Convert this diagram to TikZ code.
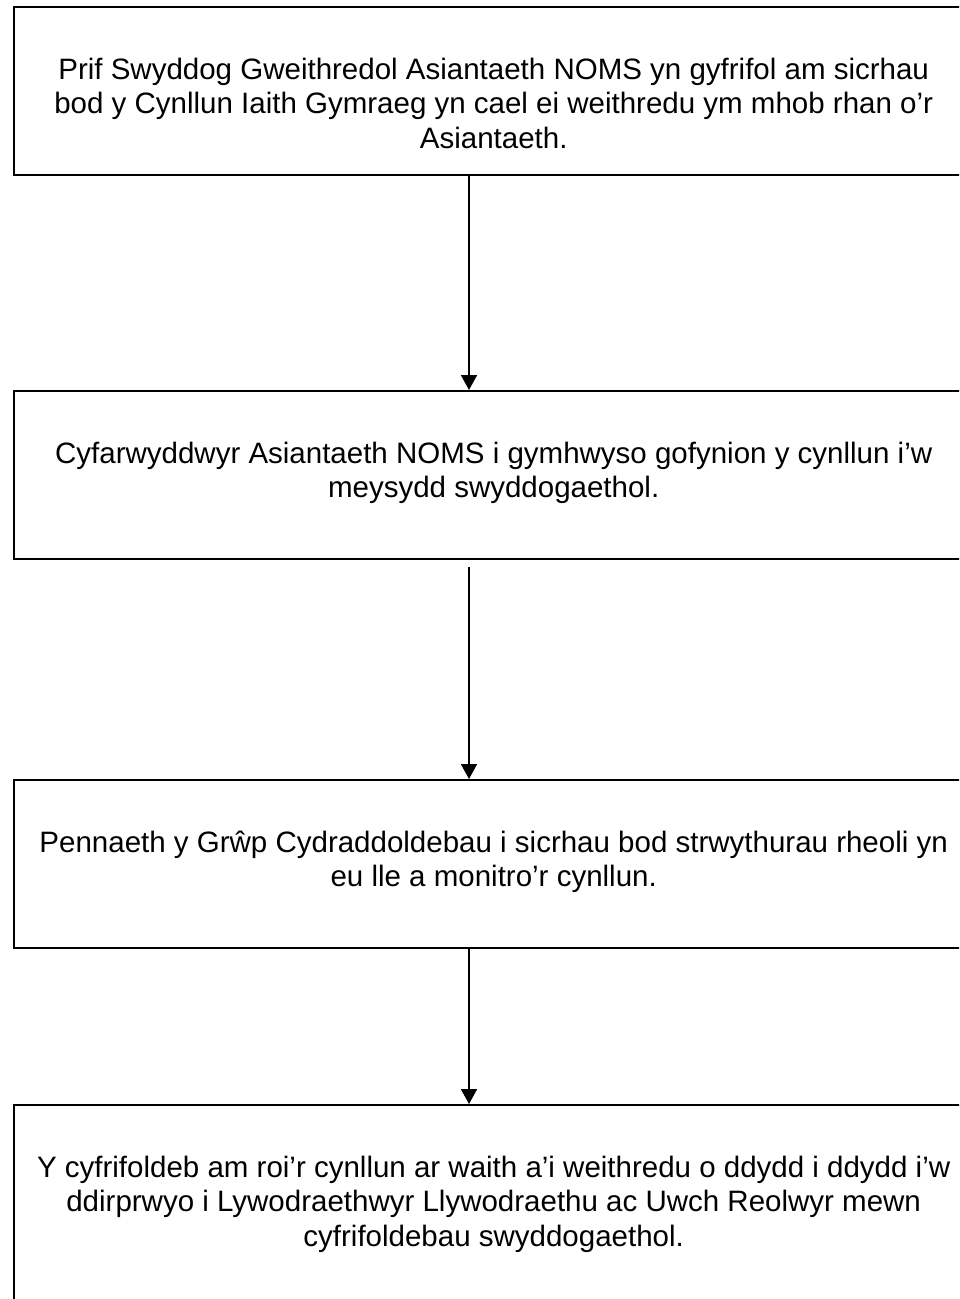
\documentclass[tikz,border=0pt]{standalone}
\usepackage{fontspec}
\setmainfont{Liberation Sans}
\usetikzlibrary{arrows.meta}
\newcommand{\boxtext}[2]{\parbox[c][#1][t]{960pt}{\setlength{\parskip}{0pt}\fontsize{29.5pt}{34.5pt}\selectfont\vspace*{47.85pt}\centering\strut #2\par}}
\tikzset{
  flowbox/.style={draw=black, line width=2pt, rectangle, inner sep=0pt, anchor=north west},
  flowarrow/.style={draw=black, line width=1.8pt, -{Triangle[length=15pt,width=16pt]}}
}
\begin{document}
\begin{tikzpicture}[x=1pt,y=1pt]
\useasboundingbox (0,0) rectangle (959,-1299);
\clip (0,0) rectangle (959,-1299);
\fill[white] (0,0) rectangle (959,-1299);
\node[flowbox] (b1) at (12.7,-6.3) {\boxtext{168pt}{Prif Swyddog Gweithredol Asiantaeth NOMS yn gyfrifol am sicrhau\\bod y Cynllun Iaith Gymraeg yn cael ei weithredu ym mhob rhan o’r\\Asiantaeth.}};
\node[flowbox] (b2) at (12.7,-390) {\boxtext{168pt}{Cyfarwyddwyr Asiantaeth NOMS i gymhwyso gofynion y cynllun i’w\\meysydd swyddogaethol.}};
\node[flowbox] (b3) at (12.7,-779) {\boxtext{168pt}{Pennaeth y Grŵp Cydraddoldebau i sicrhau bod strwythurau rheoli yn\\eu lle a monitro’r cynllun.}};
\node[flowbox] (b4) at (12.7,-1104) {\boxtext{260pt}{Y cyfrifoldeb am roi’r cynllun ar waith a’i weithredu o ddydd i ddydd i’w\\ddirprwyo i Lywodraethwyr Llywodraethu ac Uwch Reolwyr mewn\\cyfrifoldebau swyddogaethol.}};
\coordinate (ax) at (469,0);
\draw[flowarrow] (b1.south -| ax) -- (b2.north -| ax);
\draw[flowarrow, shorten <=7pt] (b2.south -| ax) -- (b3.north -| ax);
\draw[flowarrow] (b3.south -| ax) -- (b4.north -| ax);
\end{tikzpicture}
\end{document}
